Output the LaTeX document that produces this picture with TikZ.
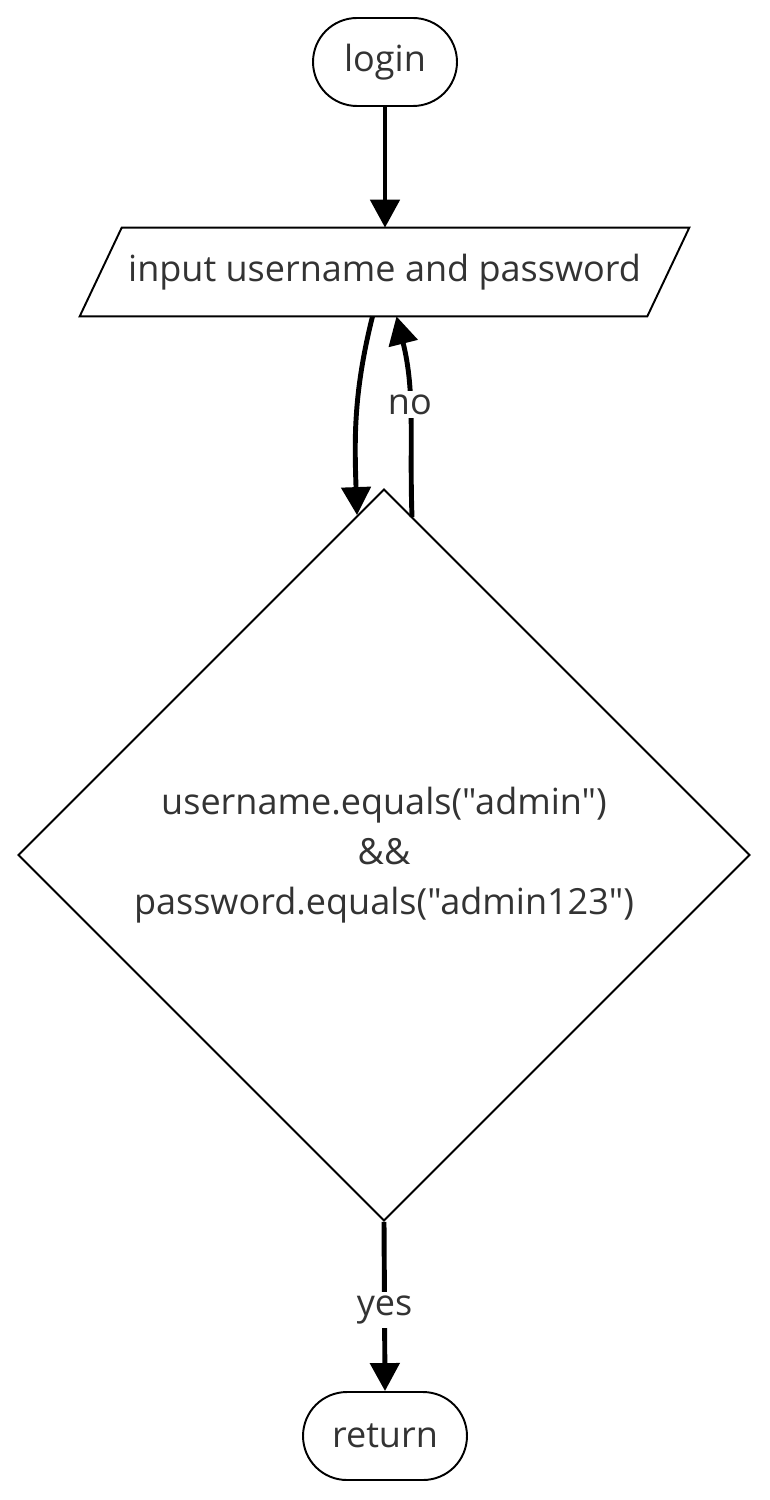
\documentclass[tikz,border=0pt]{standalone}
\usepackage{fontspec}
\setmainfont{Open Sans}[Ligatures=TeXOff]
\usetikzlibrary{arrows.meta,positioning,calc,shapes.geometric}
\definecolor{txt}{HTML}{333333}

\begin{document}
\begin{tikzpicture}[
  x=0.02cm, y=-0.02cm,
  every node/.style={font=\fontsize{20.5}{28.4}\selectfont, text=txt},
  term/.style={draw, line width=1.1pt, rounded corners=0.879cm, align=center,
               minimum height=1.76cm},
  io/.style={minimum width=11.34cm, minimum height=1.76cm, inner sep=0pt},
  decision/.style={draw, line width=1.1pt, diamond, aspect=1, inner sep=0pt,
                   minimum width=14.64cm, minimum height=14.64cm, align=center},
  flow/.style={line width=2.8pt, -{Triangle[length=0.56cm,width=0.58cm]}},
  lbl/.style={fill=white, inner sep=2pt},
]
\useasboundingbox (0,0) rectangle (770,1500);

\node[term, minimum width=2.88cm] (login) at (385,62) {login};
\node[io] (input) at (384.5,272) {input username and password};
\draw[line width=1.1pt] ([xshift=0.42cm]input.north west) -- ([xshift=0.42cm]input.north east)
  -- ([xshift=-0.42cm]input.south east) -- ([xshift=-0.42cm]input.south west) -- cycle;
\node[decision] (check) at (384,855)
  {username.equals("admin")\\\&\&\\password.equals("admin123")};
\node[term, minimum width=3.28cm] (ret) at (385,1436) {return};

\draw[flow] (login) -- (login |- input.north);
\draw[flow] ([xshift=-0.24cm]input.south) to[out=-104, in=92]
  ([xshift=-0.54cm, yshift=-0.54cm]check.north);
\draw[flow] ([xshift=0.56cm, yshift=-0.58cm]check.north) to[out=92, in=-76]
  node[lbl, pos=0.56] {no} ([xshift=0.24cm]input.south);
\draw[flow] (check.south) -- node[lbl, pos=0.52] {yes} (ret.north);
\end{tikzpicture}
\end{document}
